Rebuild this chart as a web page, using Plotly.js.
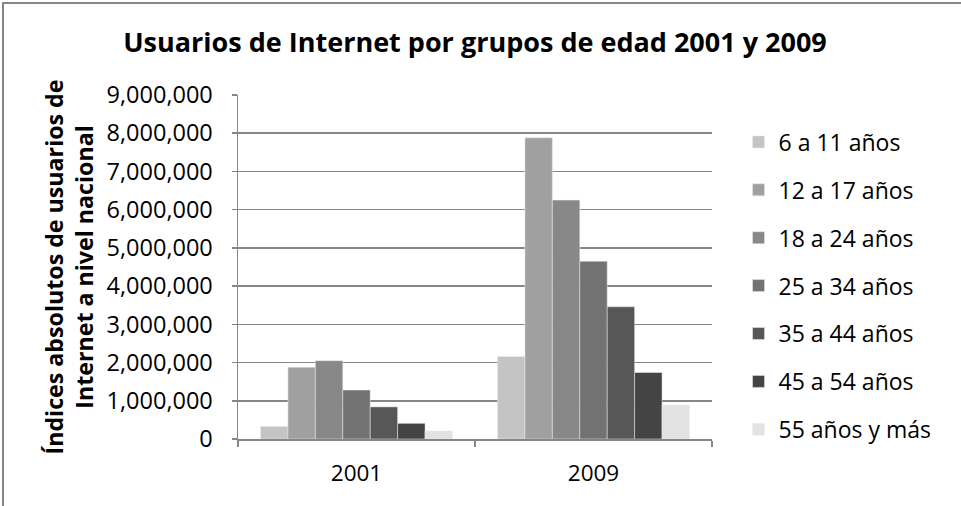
<!DOCTYPE html>
<html><head><meta charset="utf-8">
<script src="https://cdn.plot.ly/plotly-3.0.1.min.js"></script>
<style>
html,body{margin:0;padding:0;background:#fff;}
#wrap{position:relative;width:961px;height:506px;overflow:hidden;}
#chart{position:absolute;left:0;top:0;width:961px;height:506px;}
#frame{position:absolute;left:2px;top:2px;width:970px;height:502px;border-left:2px solid #868686;border-top:2px solid #868686;border-bottom:1px solid #c8c8c8;pointer-events:none;}
</style>
</head><body>
<div id="wrap"><div id="chart"></div><div id="frame"></div></div>
<script>
const years = ["2001", "2009"];
const groups = ["6 a 11 años", "12 a 17 años", "18 a 24 años", "25 a 34 años", "35 a 44 años", "45 a 54 años", "55 años y más"];
const v6_11   = [330000, 2160000];
const v12_17  = [1880000, 7880000];
const v18_24  = [2050000, 6250000];
const v25_34  = [1280000, 4650000];
const v35_44  = [840000, 3460000];
const v45_54  = [410000, 1740000];
const v55mas  = [210000, 890000];
const series = [v6_11, v12_17, v18_24, v25_34, v35_44, v45_54, v55mas];
const colors = ["#c4c4c4", "#a0a0a0", "#888888", "#727272", "#575757", "#444444", "#e3e3e3"];
const yTitle = "Índices absolutos de usuarios de<br>Internet a nivel nacional";
const chartTitle = "Usuarios de Internet por grupos de edad 2001 y 2009";

const FONT = "'Open Sans', sans-serif";
const traces = groups.map((g, i) => ({
  type: "bar", name: g, x: years, y: series[i], legendgroup: "g" + i,
  marker: {color: colors[i], line: {color: "#ececec", width: 0.5}},
  hoverinfo: "skip"
}));

const layout = {
  width: 961, height: 506,
  margin: {l: 238, r: 249, t: 95, b: 67},
  paper_bgcolor: "#fff", plot_bgcolor: "#fff",
  font: {family: FONT, color: "#000"},
  title: {text: "<b>" + chartTitle + "</b>", font: {family: FONT, size: 27, color: "#000"},
          x: 0.5, xref: "paper", xanchor: "center", y: 0.915, yanchor: "middle"},
  barmode: "group", bargap: 0.19, bargroupgap: 0,
  showlegend: true,
  legend: {x: 1.056, xanchor: "left", y: 0.926, yanchor: "top", traceorder: "grouped",
           tracegroupgap: 15, font: {family: FONT, size: 23, color: "#000"},
           itemwidth: 30, bgcolor: "rgba(0,0,0,0)"},
  xaxis: {type: "category", showgrid: false, showline: true, linecolor: "#868686", linewidth: 1.5,
          ticks: "outside", tickson: "boundaries", ticklen: 6, tickcolor: "#868686", tickwidth: 1.5,
          tickfont: {family: FONT, size: 22.5, color: "#000"}, ticklabelstandoff: 13, zeroline: false},
  yaxis: {range: [0, 9000000], dtick: 1000000, tickformat: ",d", showgrid: true,
          gridcolor: "#868686", gridwidth: 1.5, showline: true, linecolor: "#868686", linewidth: 1.5,
          ticks: "outside", ticklen: 5, tickcolor: "#868686", tickwidth: 1.5,
          tickfont: {family: FONT, size: 23.5, color: "#000"}, ticklabelstandoff: 14, zeroline: false,
          title: {text: "<b>" + yTitle + "</b>", font: {family: FONT, size: 23.2, color: "#000"}, standoff: 6}}
};
Plotly.newPlot("chart", traces, layout, {staticPlot: true, displayModeBar: false});
</script>
</body></html>
